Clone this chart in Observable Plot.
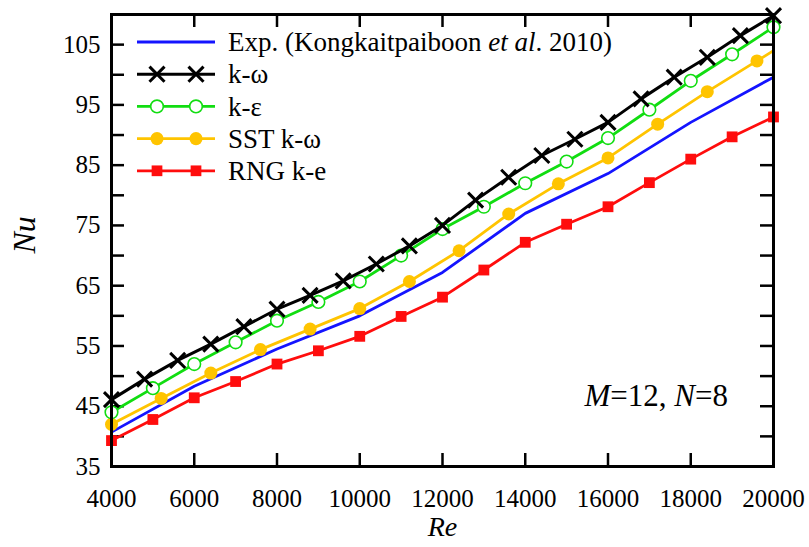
<!DOCTYPE html>
<html><head><meta charset="utf-8">
<script src="https://cdn.jsdelivr.net/npm/d3@7"></script>
<script src="https://cdn.jsdelivr.net/npm/@observablehq/plot@0.6"></script>
<style>
body{margin:0;background:#fff;}
#chart{width:809px;height:547px;}
</style>
</head><body><div id="chart"></div>
<script>
// ---- data ----
const expRe = [4000, 6000, 8000, 10000, 12000, 14000, 16000, 18000, 20000];
const expNu = [40.7, 48.3, 54.5, 60.0, 67.2, 77.0, 83.6, 92.1, 99.6];

const kwRe = [4000, 4800, 5600, 6400, 7200, 8000, 8800, 9600, 10400, 11200, 12000, 12800, 13600, 14400, 15200, 16000, 16800, 17600, 18400, 19200, 20000];
const kwNu = [46.1, 49.5, 52.6, 55.3, 58.2, 61.1, 63.4, 65.8, 68.6, 71.6, 75.0, 79.2, 83.0, 86.6, 89.3, 92.1, 96.0, 99.6, 102.9, 106.5, 109.8];

const keRe = [4000, 5000, 6000, 7000, 8000, 9000, 10000, 11000, 12000, 13000, 14000, 15000, 16000, 17000, 18000, 19000, 20000];
const keNu = [44.0, 48.0, 52.0, 55.6, 59.2, 62.3, 65.7, 70.0, 74.4, 78.1, 82.0, 85.6, 89.5, 94.2, 99.0, 103.4, 107.9];

const sstRe = [4000, 5200, 6400, 7600, 8800, 10000, 11200, 12400, 13600, 14800, 16000, 17200, 18400, 19600, 20000];
const sstNu = [42.0, 46.3, 50.5, 54.4, 57.8, 61.2, 65.7, 70.8, 76.9, 81.9, 86.2, 91.8, 97.2, 102.3, 104.0];
const sstMarker = [true, true, true, true, true, true, true, true, true, true, true, true, true, true, false];

const rngRe = [4000, 5000, 6000, 7000, 8000, 9000, 10000, 11000, 12000, 13000, 14000, 15000, 16000, 17000, 18000, 19000, 20000];
const rngNu = [39.3, 42.8, 46.4, 49.1, 52.0, 54.2, 56.6, 59.9, 63.1, 67.6, 72.2, 75.2, 78.1, 82.1, 86.0, 89.7, 93.0];

const xTicks = [4000, 6000, 8000, 10000, 12000, 14000, 16000, 18000, 20000];
const yTickLabels = [35, 45, 55, 65, 75, 85, 95, 105];
const yTicks = [35, 40, 45, 50, 55, 60, 65, 70, 75, 80, 85, 90, 95, 100, 105, 110];

const seriesNames = ["Exp. (Kongkaitpaiboon et al. 2010)", "k-\u03c9", "k-\u03b5", "SST k-\u03c9", "RNG k-e"];
const seriesColors = ["#1414ff", "#000000", "#11dd11", "#ffc400", "#ff0d0d"];

const zip = (xs, ys) => xs.map((x, i) => ({Re: x, Nu: ys[i], i}));
const expD = zip(expRe, expNu), kwD = zip(kwRe, kwNu), keD = zip(keRe, keNu),
      sstD = zip(sstRe, sstNu), rngD = zip(rngRe, rngNu);

const FONT = "Liberation Serif";
const W = 809, H = 547, mL = 111, mR = 36, mT = 14, mB = 81;
const innerH = H - mT - mB, innerW = W - mL - mR;
const TICK = 13;

// legend + annotation (custom render)
function legendMark(index, scales, values, dim) {
  const g = d3.create("svg:g").attr("font-family", FONT).attr("text-anchor", "start");
  const x0 = dim.marginLeft, y0 = dim.marginTop;
  const kinds = [null, "times", "ocircle", "circle", "square"];
  seriesNames.forEach((name, i) => {
    const y = y0 + 28 + i * 32.2;
    g.append("line").attr("x1", x0 + 26).attr("x2", x0 + 104).attr("y1", y).attr("y2", y)
      .attr("stroke", seriesColors[i]).attr("stroke-width", i === 1 ? 3 : 2.8);
    const k = kinds[i];
    if (k) {
      [x0 + 46, x0 + 85].forEach(mx => {
        let sym, fill = seriesColors[i], stroke = "none", sw = 0, size;
        if (k === "times") { sym = d3.symbolTimes; size = 150; fill = "none"; stroke = "#000"; sw = 3; }
        else if (k === "ocircle") { sym = d3.symbolCircle; size = 125; fill = "#fff"; stroke = seriesColors[i]; sw = 1.6; }
        else if (k === "circle") { sym = d3.symbolCircle; size = 135; }
        else { sym = d3.symbolSquare; size = 115; }
        g.append("path").attr("d", d3.symbol(sym, size)()).attr("transform", `translate(${mx},${y})`)
          .attr("fill", fill).attr("stroke", stroke).attr("stroke-width", sw);
      });
    }
    const t = g.append("text").attr("x", x0 + 117).attr("y", y).attr("dy", "0.34em")
      .attr("text-anchor", "start").attr("font-size", 27).attr("fill", "#000");
    if (i === 0) {
      t.append("tspan").text("Exp. (Kongkaitpaiboon ");
      t.append("tspan").attr("font-style", "italic").text("et al");
      t.append("tspan").text(". 2010)");
    } else t.text(name);
  });
  // annotation
  const a = g.append("text").attr("x", dim.width - dim.marginRight - 45).attr("y", dim.height - dim.marginBottom - 60)
    .attr("text-anchor", "end").attr("font-size", 31).attr("fill", "#000");
  a.append("tspan").attr("font-style", "italic").text("M");
  a.append("tspan").text("=12, ");
  a.append("tspan").attr("font-style", "italic").text("N");
  a.append("tspan").text("=8");
  return g.node();
}

const chart = Plot.plot({
  width: W, height: H,
  marginLeft: mL, marginRight: mR, marginTop: mT, marginBottom: mB,
  style: "font-family: 'Liberation Serif', serif; background: #fff; color: #000;",
  x: {domain: [4000, 20000]},
  y: {domain: [35, 110]},
  marks: [
    Plot.tickX(xTicks, {x: d => d, insetTop: innerH - TICK, stroke: "#000", strokeWidth: 2.5}),
    Plot.tickX(xTicks, {x: d => d, insetBottom: innerH - TICK, stroke: "#000", strokeWidth: 2.5}),
    Plot.tickY(yTicks, {y: d => d, insetRight: innerW - TICK, stroke: "#000", strokeWidth: 2.5}),
    Plot.tickY(yTicks, {y: d => d, insetLeft: innerW - TICK, stroke: "#000", strokeWidth: 2.5}),
    Plot.axisX(xTicks, {tickSize: 0, tickPadding: 23, fontSize: 25, tickFormat: d => String(d), label: null}),
    Plot.axisY(yTickLabels, {tickSize: 0, tickPadding: 11, fontSize: 25, tickFormat: d => String(d), label: null}),
    Plot.line(expD, {x: "Re", y: "Nu", stroke: seriesColors[0], strokeWidth: 2.8}),
    Plot.line(rngD, {x: "Re", y: "Nu", stroke: seriesColors[4], strokeWidth: 2.8}),
    Plot.dot(rngD, {x: "Re", y: "Nu", symbol: "square", r: 6.1, fill: seriesColors[4]}),
    Plot.line(sstD, {x: "Re", y: "Nu", stroke: seriesColors[3], strokeWidth: 2.8}),
    Plot.dot(sstD, {filter: d => sstMarker[d.i], x: "Re", y: "Nu", r: 6.5, fill: seriesColors[3]}),
    Plot.line(keD, {x: "Re", y: "Nu", stroke: seriesColors[2], strokeWidth: 2.8}),
    Plot.dot(keD, {x: "Re", y: "Nu", r: 6.3, fill: "#fff", stroke: seriesColors[2], strokeWidth: 1.6}),
    Plot.line(kwD, {x: "Re", y: "Nu", stroke: seriesColors[1], strokeWidth: 3}),
    Plot.dot(kwD, {x: "Re", y: "Nu", symbol: "times", r: 6.9, stroke: "#000", strokeWidth: 3}),
    Plot.frame({stroke: "#000", strokeWidth: 3}),
    Plot.text(["Re"], {frameAnchor: "bottom", dy: 69, text: d => d, fontSize: 28, fontStyle: "italic", fill: "#000"}),
    Plot.text(["Nu"], {frameAnchor: "left", dx: -87, dy: 13, rotate: -90, text: d => d, fontSize: 32, fontStyle: "italic", fill: "#000"}),
    legendMark
  ]
});
document.getElementById("chart").append(chart);
</script>
</body></html>
